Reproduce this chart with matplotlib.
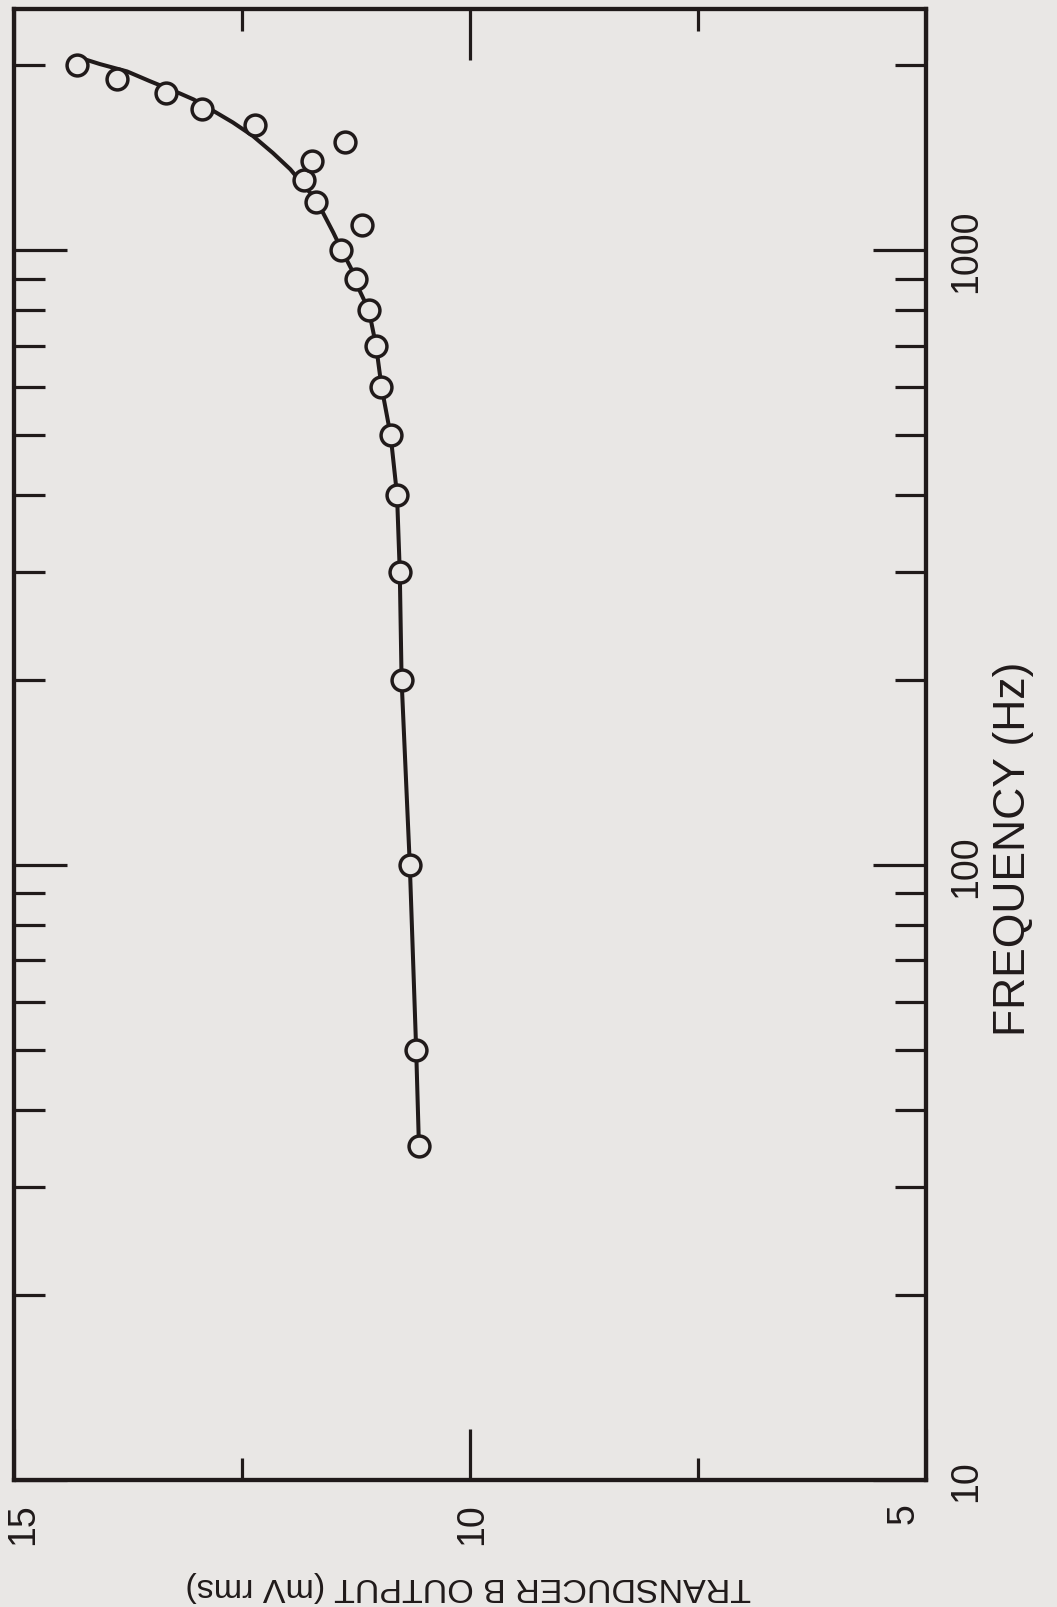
import matplotlib
matplotlib.use("Agg")
import matplotlib.pyplot as plt
from matplotlib.ticker import NullFormatter
from matplotlib.transforms import ScaledTranslation

#
# Data read off the (rotated) chart
#
freq_hz = [35, 50, 100, 200, 300, 400, 500, 600, 700, 800, 900, 1000,
           1100, 1200, 1300, 1400, 1500, 1600, 1700, 1800, 1900, 2000]
output_mv = [10.56, 10.59, 10.66, 10.75, 10.77, 10.80, 10.87, 10.98, 11.03, 11.11, 11.25, 11.41,
             11.18, 11.69, 11.82, 11.73, 11.37, 12.36, 12.94, 13.33, 13.87, 14.31]

# hand drawn smooth curve through the points
fit_freq_hz = [35, 50, 100, 200, 300, 400, 500, 600, 700, 800, 860, 920, 990, 1070,
               1150, 1225, 1295, 1355, 1440, 1535, 1615, 1685, 1760, 1800, 1885, 1955, 2010, 2045]
fit_output_mv = [10.56, 10.59, 10.66, 10.75, 10.77, 10.80, 10.87, 10.97, 11.03, 11.11, 11.21, 11.28,
                 11.39, 11.50, 11.61, 11.72, 11.86, 11.97, 12.16, 12.38, 12.60, 12.81, 13.03, 13.18,
                 13.51, 13.76, 14.06, 14.22]

freq_major = [10, 100, 1000]
freq_major_labels = ["10", "100", "1000"]
freq_minor = [20, 30, 40, 50, 60, 70, 80, 90, 200, 300, 400, 500, 600, 700, 800, 900, 2000]
out_major = [5, 10, 15]
out_major_labels = ["5", "10", "15"]
out_minor = [7.5, 12.5]

#
# Style
#
paper = "#e9e7e5"
ink = "#201a1a"
plt.rcParams["font.family"] = ["Liberation Sans", "DejaVu Sans"]

W, H = 1057, 1608
fig = plt.figure(figsize=(W / 100, H / 100), dpi=100, facecolor=paper)

# axes frame in pixels: left 14, right 926, top 10, bottom 1481
ax = fig.add_axes([14 / W, 1 - 1481 / H, (926 - 14) / W, (1481 - 10) / H])
ax.set_facecolor(paper)

# The page is turned 90 degrees: output runs right-to-left, frequency bottom-to-top
ax.set_yscale("log")
ax.set_xlim(15, 5)
ax.set_ylim(10, 2470)

ax.plot(fit_output_mv, fit_freq_hz, color=ink, lw=2.9, zorder=2)
ax.plot(output_mv, freq_hz, "o", ms=15, mew=2.5, mec=ink, mfc=paper, zorder=3)

# Ticks
ax.set_yticks(freq_major, labels=freq_major_labels)
ax.set_yticks(freq_minor, minor=True)
ax.yaxis.set_minor_formatter(NullFormatter())
ax.set_xticks(out_major, labels=out_major_labels)
ax.set_xticks(out_minor, minor=True)
ax.xaxis.set_minor_formatter(NullFormatter())

ax.tick_params(which="both", direction="in", top=True, bottom=True, left=True, right=True,
               color=ink, width=2.3, labelcolor=ink, labelsize=27)
ax.tick_params(axis="y", which="major", length=38)
ax.tick_params(axis="y", which="minor", length=22)
ax.tick_params(axis="x", which="major", length=37)
ax.tick_params(axis="x", which="minor", length=16)
ax.tick_params(axis="y", labelleft=False, labelright=True, pad=16, labelrotation=90)
ax.tick_params(axis="x", labelbottom=True, pad=16, labelrotation=90)
for lab in ax.get_yticklabels():
    lab.set_verticalalignment("center")
    lab.set_horizontalalignment("left")

# hand lettering sits a little off the end ticks
shift_px = {"15": 9, "10": 2, "5": -22}
for lab in ax.get_xticklabels():
    dx = shift_px.get(lab.get_text(), 0)
    lab.set_transform(lab.get_transform() + ScaledTranslation(dx / 100, 0, fig.dpi_scale_trans))

for s in ax.spines.values():
    s.set_color(ink)
    s.set_linewidth(3.1)

# Axis titles (turned with the page)
fig.text(468 / W, 1 - 1587 / H, "TRANSDUCER B OUTPUT (mV rms)", rotation=180,
         ha="center", va="center", fontsize=24.5, color=ink)
fig.text(1013 / W, 1 - 849 / H, "FREQUENCY (Hz)", rotation=90,
         ha="center", va="center", fontsize=32, color=ink)

fig.savefig("out.png", dpi=100, facecolor=paper)
